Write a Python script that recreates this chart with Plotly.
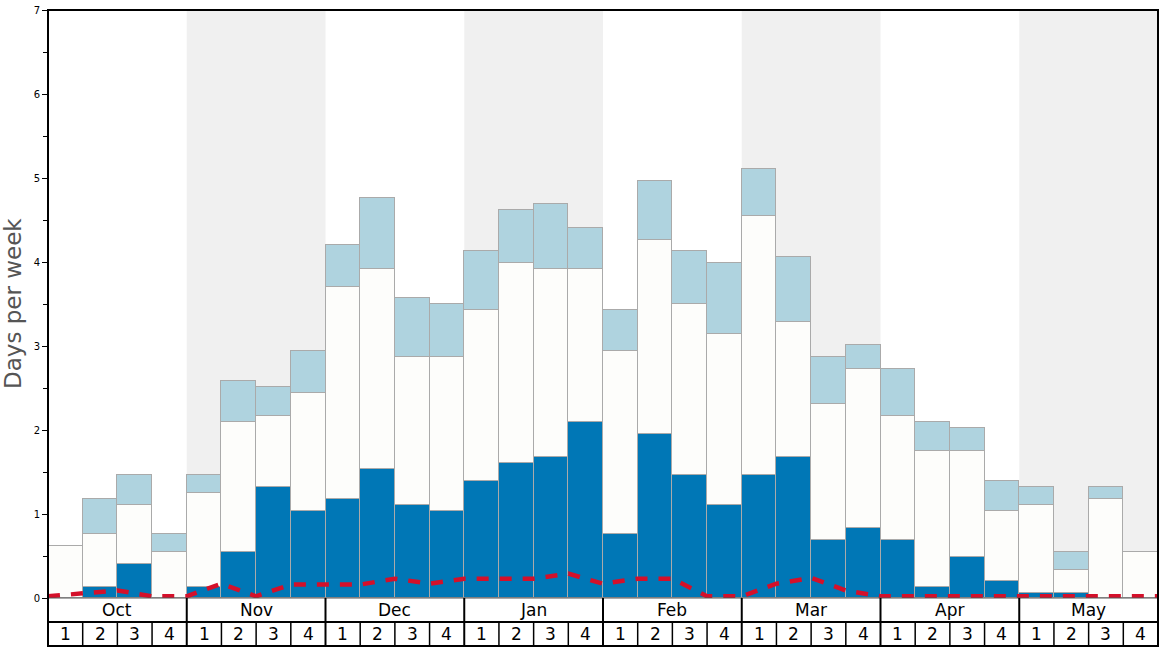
import plotly.graph_objects as go

months = ["Oct", "Nov", "Dec", "Jan", "Feb", "Mar", "Apr", "May"]
week_labels = ["1", "2", "3", "4"]

# stack tops (days per week)
dark_top = [0.00, 0.13, 0.40, 0.00,
            0.13, 0.55, 1.32, 1.04,
            1.18, 1.54, 1.11, 1.04,
            1.39, 1.61, 1.68, 2.10,
            0.76, 1.95, 1.46, 1.11,
            1.46, 1.68, 0.69, 0.83,
            0.69, 0.13, 0.49, 0.20,
            0.06, 0.06, 0.00, 0.00]
white_top = [0.62, 0.76, 1.11, 0.55,
             1.25, 2.10, 2.17, 2.44,
             3.70, 3.92, 2.87, 2.87,
             3.43, 3.99, 3.92, 3.92,
             2.94, 4.26, 3.50, 3.14,
             4.55, 3.29, 2.31, 2.73,
             2.17, 1.75, 1.75, 1.04,
             1.11, 0.33, 1.18, 0.55]
light_top = [0.62, 1.18, 1.46, 0.76,
             1.46, 2.58, 2.51, 2.94,
             4.20, 4.76, 3.57, 3.50,
             4.13, 4.62, 4.69, 4.40,
             3.43, 4.96, 4.13, 3.99,
             5.11, 4.06, 2.87, 3.01,
             2.73, 2.10, 2.02, 1.39,
             1.32, 0.55, 1.32, 0.55]
# dashed line, values at week boundaries (33 points)
line_vals = [0.02, 0.06, 0.09, 0.02, 0.02, 0.17, 0.02, 0.16, 0.16, 0.16, 0.23,
             0.17, 0.23, 0.23, 0.23, 0.29, 0.17, 0.23, 0.23, 0.02, 0.02,
             0.17, 0.24, 0.09, 0.02, 0.02, 0.02, 0.02, 0.02, 0.02, 0.02,
             0.02, 0.02]

n = len(dark_top)
xs = list(range(n))
white_h = [w - d for w, d in zip(white_top, dark_top)]
light_h = [l - w for l, w in zip(light_top, white_top)]
line_x = [i - 0.5 for i in range(n + 1)]

DARK = "#0077b6"
WHITE = "#fdfdfb"
LIGHT = "#afd3df"
OUTLINE = "#aaaaaa"
FONT = "DejaVu Sans"

fig = go.Figure()
for vals, col in [(dark_top, DARK), (white_h, WHITE), (light_h, LIGHT)]:
    fig.add_trace(go.Bar(x=xs, y=vals, marker=dict(color=col, line=dict(color=OUTLINE, width=1)),
                         width=1, hoverinfo="skip"))
fig.add_trace(go.Scatter(x=line_x, y=line_vals, mode="lines",
                         line=dict(color="#d4102a", width=4.5, dash="12px,11px"), hoverinfo="skip"))

plot_h = 588.0
row = 24.0 / plot_h
shapes = []
# alternating month shading
for m in range(len(months)):
    if m % 2 == 1:
        shapes.append(dict(type="rect", xref="x", yref="paper", x0=4 * m - 0.5, x1=4 * m + 3.5,
                           y0=0, y1=1, fillcolor="#f0f0f0", line=dict(width=0), layer="below"))
# bottom rows
shapes.append(dict(type="line", xref="paper", yref="paper", x0=0, x1=1, y0=0, y1=0,
                   line=dict(color="#555555", width=1)))
shapes.append(dict(type="line", xref="paper", yref="paper", x0=0, x1=1, y0=-row, y1=-row,
                   line=dict(color="black", width=2)))
for k in range(1, n):
    if k % 4 == 0:
        shapes.append(dict(type="line", xref="paper", yref="paper", x0=k / n, x1=k / n,
                           y0=-2 * row, y1=0, line=dict(color="black", width=2)))
    else:
        shapes.append(dict(type="line", xref="paper", yref="paper", x0=k / n, x1=k / n,
                           y0=-2 * row, y1=-row, line=dict(color="black", width=1.5)))
# frame
shapes.append(dict(type="rect", xref="paper", yref="paper", x0=0, x1=1, y0=-2 * row, y1=1,
                   line=dict(color="black", width=2), fillcolor="rgba(0,0,0,0)"))

annotations = []
for m, name in enumerate(months):
    annotations.append(dict(x=4 * m + 1.5, xref="x", y=-row / 2, yref="paper", text=name,
                            showarrow=False, font=dict(family=FONT, size=17, color="black"),
                            yanchor="middle"))
for i in range(n):
    annotations.append(dict(x=i, xref="x", y=-1.5 * row, yref="paper", text=week_labels[i % 4],
                            showarrow=False, font=dict(family=FONT, size=17, color="black"),
                            yanchor="middle"))
annotations.append(dict(x=-35 / 1110.0, xref="paper", y=0.5, yref="paper", text="Days per week",
                        textangle=-90, showarrow=False, xanchor="center", yanchor="middle",
                        font=dict(family=FONT, size=23, color="#555555")))

fig.update_layout(
    width=1168, height=648,
    margin=dict(l=48, r=10, t=10, b=50, autoexpand=False),
    barmode="stack", bargap=0, showlegend=False,
    plot_bgcolor="white", paper_bgcolor="white",
    shapes=shapes, annotations=annotations,
    xaxis=dict(range=[-0.5, n - 0.5], showticklabels=False, ticks="", showgrid=False,
               zeroline=False, fixedrange=True, automargin=False),
    yaxis=dict(range=[0, 7], dtick=1, ticks="outside", ticklen=5, tickcolor="black",
               tickfont=dict(family=FONT, size=10, color="black"), showgrid=False, zeroline=False,
               minor=dict(dtick=0.5, ticks="outside", ticklen=4, tickcolor="black"),
               showline=False, fixedrange=True, automargin=False),
)

fig.write_html("out.html", config={"displayModeBar": False},
               post_script="document.documentElement.style.margin='0';"
                           "document.body.style.margin='0';"
                           "document.body.style.padding='0';"
                           "document.body.style.overflow='hidden';")
